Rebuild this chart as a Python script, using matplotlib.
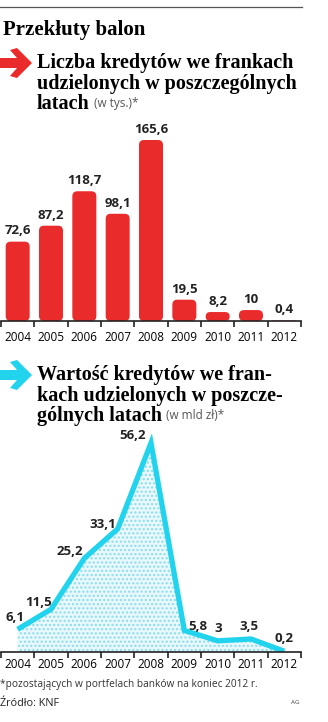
import numpy as np
import matplotlib.pyplot as plt
from matplotlib.patches import FancyBboxPatch, Polygon
from matplotlib.lines import Line2D

# dane
lata = ['2004', '2005', '2006', '2007', '2008', '2009', '2010', '2011', '2012']
liczba = [72.6, 87.2, 118.7, 98.1, 165.6, 19.5, 8.2, 10, 0.4]      # w tys.
wartosc = [6.1, 11.5, 25.2, 33.1, 56.2, 5.8, 3, 3.5, 0.2]          # w mld zł

# przesunięcia etykiet na wykresie liniowym (px)
off_wart = [(-3, 12), (-12, 7), (-15, 7), (-15, 4), (-18, 7), (14, 4), (1, 12), (-2, 12), (0, 13)]

W, H = 328, 722
SANS = 'Open Sans'
SERIF = 'Liberation Serif'
CZERWONY = '#ea2b2b'
CYJAN = '#22d3ee'


def fx(px):
    return px / W


def fy(py):
    return 1 - py / H


def fmt(v):
    return f'{v:g}'.replace('.', ',')


fig = plt.figure(figsize=(W / 100, H / 100), dpi=100)

# nagłówek
fig.add_artist(Line2D([0, fx(302)], [fy(7), fy(7)], color='#555555', lw=0.9))
fig.text(fx(3), fy(30), 'Przekłuty balon', family=SERIF, weight='bold', size=15, va='center')


def strzalka(yc, kolor):
    pts = [(0, yc - 5), (17, yc - 5), (10, yc - 13), (17, yc - 15), (32, yc),
           (17, yc + 15), (10, yc + 13), (17, yc + 5), (0, yc + 5)]
    fig.add_artist(Polygon([(fx(x), fy(y)) for x, y in pts], closed=True,
                           facecolor=kolor, edgecolor='none', transform=fig.transFigure))


def podtytul(linie, y0, dopisek):
    t = None
    for i, l in enumerate(linie):
        t = fig.text(fx(37), fy(y0 + 20.5 * i), l, family=SERIF, weight='bold', size=14.5,
                     va='baseline')
    fig.add_artist(plt.Annotation(dopisek, xy=(0, 0), xycoords=t, xytext=(0, 0),
                                  textcoords='offset points', alpha=0))
    return t


def dopisek(t, tekst):
    fig.add_artist(plt.Annotation(tekst, xy=(1, 0.22), xycoords=t, xytext=(3, 0),
                                  textcoords='offset points', family=SANS, size=8.5,
                                  color='#555555', va='bottom'))


strzalka(63, CZERWONY)
t1 = podtytul(['Liczba kredytów we frankach', 'udzielonych w poszczególnych', 'latach'], 68, '')
dopisek(t1, '(w tys.)*')

strzalka(375, CYJAN)
t2 = podtytul(['Wartość kredytów we fran-', 'kach udzielonych w poszcze-', 'gólnych latach'], 380, '')
dopisek(t2, '(w mld zł)*')


def os_lat(ax, pad):
    x = np.arange(len(lata))
    ax.set_xlim(-0.5, len(lata) - 0.5)
    for s in ['top', 'left', 'right']:
        ax.spines[s].set_visible(False)
    ax.spines['bottom'].set_linewidth(1.2)
    ax.spines['bottom'].set_color('#222222')
    ax.set_yticks([])
    ax.set_xticks(np.arange(-0.5, len(lata), 1))
    ax.set_xticklabels([])
    ax.tick_params(axis='x', which='major', direction='out', length=4, width=1.2, color='#222222')
    ax.set_xticks(x, minor=True)
    ax.set_xticklabels(lata, minor=True, family=SANS, fontsize=8.5)
    ax.tick_params(axis='x', which='minor', length=0, pad=pad)
    ax.patch.set_visible(False)


# wykres słupkowy
skala1 = 1.093   # px na jednostkę
ax1 = fig.add_axes([fx(1), fy(321), 300 / W, 200 / H])
os_lat(ax1, 7)
ax1.set_ylim(0, 200 / skala1)
szer = 0.72
px_x = 300 / len(lata)
aspekt = (1 / skala1) / (1 / px_x)
for i, v in enumerate(liczba):
    r_px = min(5, v * skala1 / 2)
    r = r_px / px_x
    p = FancyBboxPatch((i - szer / 2, 0), szer, v, boxstyle=f'round,pad=0,rounding_size={r}',
                       mutation_aspect=aspekt, facecolor=CZERWONY, edgecolor='none')
    ax1.add_patch(p)
    ax1.annotate(fmt(v), (i, v), xytext=(0, 3), textcoords='offset points', ha='center',
                 va='bottom', family=SANS, weight='bold', fontsize=9.5, color='#222222')

# wykres liniowy
skala2 = 3.72
ax2 = fig.add_axes([fx(1), fy(652), 300 / W, 230 / H])
os_lat(ax2, 4)
ax2.set_ylim(0, 230 / skala2)
x = np.arange(len(lata))
ax2.fill_between(x, wartosc, 0, facecolor='#e8f8fc', hatch='....', edgecolor='#86dcef', linewidth=0)
ax2.plot(x, wartosc, color=CYJAN, lw=3.8, solid_joinstyle='miter', solid_capstyle='butt')
for i, v in enumerate(wartosc):
    dx, dy = off_wart[i]
    ax2.annotate(fmt(v), (i, v), xytext=(dx * 0.72, dy * 0.72), textcoords='offset points',
                 ha='center', va='center', family=SANS, weight='bold', fontsize=9.5, color='#222222')

# stopka
fig.text(fx(0), fy(685), '*pozostających w portfelach banków na koniec 2012 r.', family=SANS,
         size=7.3, va='center', color='#333333')
fig.text(fx(0), fy(703), 'Źródło: KNF', family=SANS, size=7.8, va='center', color='#222222')
fig.text(fx(300), fy(703), 'AG', family=SANS, size=4.5, va='center', ha='right', color='#444444')

fig.savefig('out.png', dpi=100)
